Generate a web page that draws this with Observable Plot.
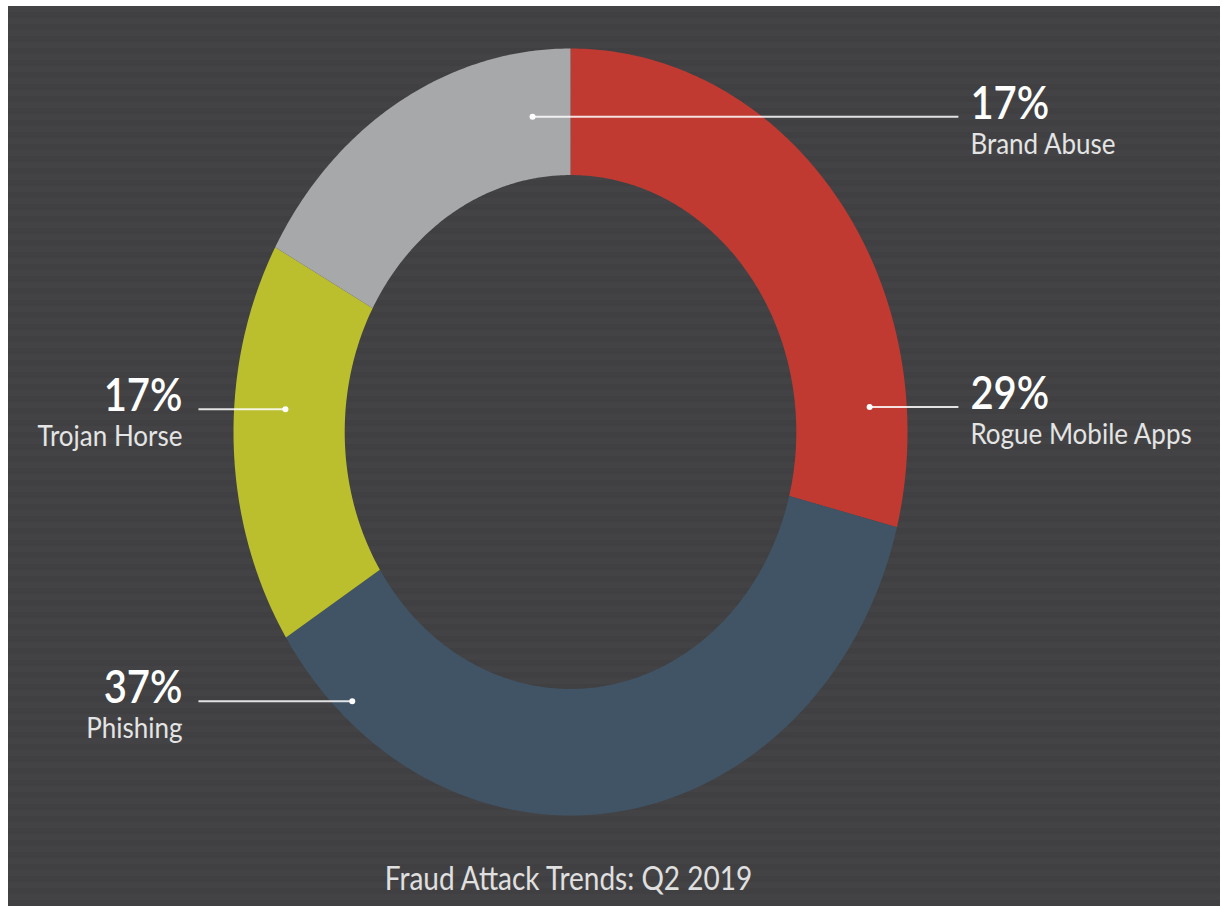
<!DOCTYPE html>
<html>
<head>
<meta charset="utf-8">
<script src="https://cdn.jsdelivr.net/npm/d3@7"></script>
<script src="https://cdn.jsdelivr.net/npm/@observablehq/plot@0.6"></script>
<style>
  html, body { margin: 0; padding: 0; background: #ffffff; }
  #card {
    position: absolute; left: 8px; top: 6px; width: 1212px; height: 900px; overflow: hidden;
    background: repeating-linear-gradient(to bottom, #434345 0px, #434345 6px, #404042 6px, #404042 12px);
    font-family: Lato, "Open Sans", sans-serif;
  }
  #chart svg { display: block; }
  #caption {
    position: absolute; left: 0; top: 857px; width: 1121px; text-align: center;
    color: #e0e0e0; font-size: 28px; line-height: 32px; white-space: nowrap;
    transform: scaleY(1.138); transform-origin: center 27px;
  }
</style>
</head>
<body>
<div id="card">
  <div id="chart"></div>
  <div id="caption">Fraud Attack Trends: Q2 2019</div>
</div>
<script>
// ---- data ----
const categories = ["Rogue Mobile Apps", "Phishing", "Trojan Horse", "Brand Abuse"];
const shares = [29, 37, 17, 17];
const palette = ["#c03a32", "#405466", "#bbbf2e", "#a7a8aa"];

// ---- layout (not data) ----
const labelAngle = [85.8, 222.7, 274, 352.2];   // degrees clockwise from top, where the leader dot sits
const labelRadius = [0.89, 0.955, 0.848, 0.83];  // fraction of outer radius
const labelSide = ["right", "left", "left", "right"];
const innerRatio = 0.67;
const rightLineEnd = 1.151, leftLineEnd = -1.104;
const K = 1.138; // vertical stretch of the picture

const total = d3.sum(shares);
let acc = 0;
const slices = categories.map((name, i) => {
  const a0 = acc / total * 360; acc += shares[i];
  return {name, value: shares[i], a0, a1: acc / total * 360};
});

const ringPts = slices.flatMap(s => {
  const pts = [];
  const n = Math.max(2, Math.ceil((s.a1 - s.a0) * 2));
  for (let j = 0; j <= n; j++) {
    const a = (s.a0 + (s.a1 - s.a0) * j / n) * Math.PI / 180;
    pts.push({name: s.name, x: Math.sin(a), y: Math.cos(a)});
  }
  for (let j = n; j >= 0; j--) {
    const a = (s.a0 + (s.a1 - s.a0) * j / n) * Math.PI / 180;
    pts.push({name: s.name, x: innerRatio * Math.sin(a), y: innerRatio * Math.cos(a)});
  }
  return pts;
});

const labels = slices.map((s, i) => {
  const a = labelAngle[i] * Math.PI / 180, r = labelRadius[i];
  const x = r * Math.sin(a), y = r * Math.cos(a);
  const right = labelSide[i] === "right";
  return {...s, x, y, right, xEnd: right ? rightLineEnd : leftLineEnd, pct: s.value + "%"};
});
const rightLabels = labels.filter(d => d.right);
const leftLabels = labels.filter(d => !d.right);

const pctStyle = {fontSize: 40, fontWeight: 600, fill: "#ffffff", lineAnchor: "bottom"};
const nameStyle = {fontSize: 26, fill: "#e4e4e4", lineAnchor: "bottom"};

const chart = Plot.plot({
  width: 1212,
  height: 845,
  margin: 0,
  x: {domain: [-1, 1], range: [225, 899], axis: null},
  y: {domain: [-1, 1], range: [809, 42], axis: null},
  color: {domain: categories, range: palette},
  style: {background: "transparent", fontFamily: "Lato, 'Open Sans', sans-serif", overflow: "visible"},
  marks: [
    Plot.line(ringPts, {x: "x", y: "y", z: "name", fill: "name", stroke: "none"}),
    Plot.link(labels, {x1: "x", y1: "y", x2: "xEnd", y2: "y", stroke: "#ffffff", strokeWidth: 2, strokeOpacity: 0.85}),
    Plot.dot(labels, {x: "x", y: "y", r: 3, fill: "#ffffff", stroke: "none"}),
    Plot.text(rightLabels, {x: "xEnd", y: "y", text: "pct", textAnchor: "start", dx: 12, dy: 2, ...pctStyle}),
    Plot.text(rightLabels, {x: "xEnd", y: "y", text: "name", textAnchor: "start", dx: 12, dy: 37, ...nameStyle}),
    Plot.text(leftLabels, {x: "xEnd", y: "y", text: "pct", textAnchor: "end", dx: -16, dy: 2, ...pctStyle}),
    Plot.text(leftLabels, {x: "xEnd", y: "y", text: "name", textAnchor: "end", dx: -16, dy: 37, ...nameStyle})
  ]
});

// stretch text vertically around its anchor, like the reference picture
chart.querySelectorAll("text").forEach(t => {
  const x = +(t.getAttribute("x") || 0), y = +(t.getAttribute("y") || 0);
  const tr = t.getAttribute("transform") || "";
  t.setAttribute("transform", `${tr} translate(${x},${y}) scale(1,${K}) translate(${-x},${-y})`);
});

document.getElementById("chart").appendChild(chart);
</script>
</body>
</html>
